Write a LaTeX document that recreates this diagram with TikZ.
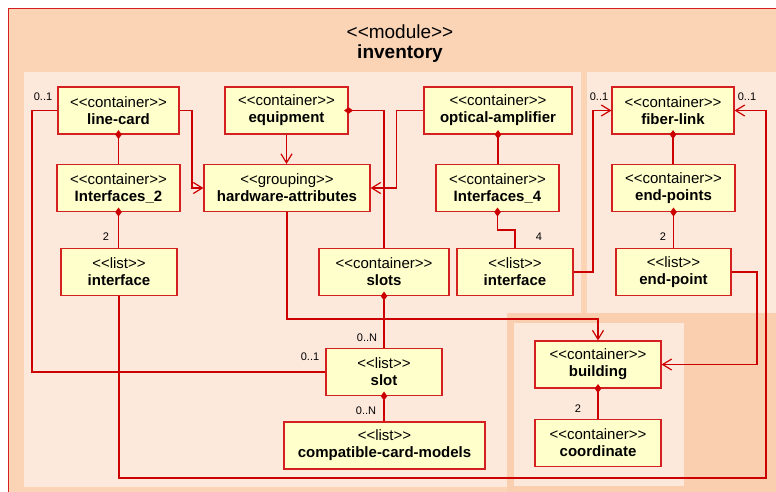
\documentclass[tikz,border=0pt]{standalone}
\usepackage{fontspec}
\setmainfont{Liberation Sans}
\usetikzlibrary{arrows.meta}

\definecolor{wire}{HTML}{CC0000}
\definecolor{boxline}{HTML}{D42020}
\definecolor{boxfill}{HTML}{FFFFCC}
\definecolor{modfill}{HTML}{FBD4B6}
\definecolor{pkgfill}{HTML}{FDE8DC}
\definecolor{subfill}{HTML}{F9CFB0}

\newcommand\stereo[1]{<{}<#1>{}>}

\tikzset{
  cls/.style={draw=boxline, fill=boxfill, line width=1.1pt, inner sep=0pt,
    align=center, minimum height=47pt,
    font=\fontsize{15}{17}\selectfont},
  wireline/.style={draw=wire, line width=1.2pt},
  comp/.style={wireline, {Diamond[length=9pt,width=6.5pt]}-, shorten <=-4.5pt},
  nav/.style={wireline, -{Straight Barb[length=9pt,width=11pt]}},
  mult/.style={font=\fontsize{11}{12}\selectfont, inner sep=0pt}
}

\begin{document}
\begin{tikzpicture}[x=1pt,y=-1pt]
\useasboundingbox (0,0) rectangle (776,491);
\fill[white] (0,0) rectangle (776,491);
\clip (0,0) rectangle (776,491);

% module frame and its package areas
\filldraw[fill=modfill, draw=boxline, line width=1.2pt] (8.5,8.5) rectangle (800,520);
\fill[pkgfill] (24,72) rectangle (581,487);
\fill[pkgfill] (587,72) rectangle (800,313);
\fill[subfill] (507,313) rectangle (800,520);
\fill[pkgfill] (514,323) rectangle (684,486);

\node[font=\fontsize{19}{21}\selectfont, inner sep=0pt] (modst) at (400,32) {\stereo{module}};
\node[font=\fontsize{19}{21}\selectfont\bfseries, inner sep=0pt] (modname) at (400,54) {inventory};

% classes
\node[cls, minimum width=121pt] (linecard)  at (118.5,110.5) {\stereo{container}\\\textbf{line-card}};
\node[cls, minimum width=123pt] (equipment) at (286.5,110.5) {\stereo{container}\\\textbf{equipment}};
\node[cls, minimum width=148pt] (optamp)    at (498,110.5)   {\stereo{container}\\\textbf{optical-amplifier}};
\node[cls, minimum width=122pt] (fiberlink) at (673,110.5)   {\stereo{container}\\\textbf{fiber-link}};

\node[cls, minimum width=123pt] (ifaces2)   at (118.5,188) {\stereo{container}\\\textbf{Interfaces\_2}};
\node[cls, minimum width=166pt] (hwattr)    at (287,188)   {\stereo{grouping}\\\textbf{hardware-attributes}};
\node[cls, minimum width=123pt] (ifaces4)   at (497.5,188) {\stereo{container}\\\textbf{Interfaces\_4}};
\node[cls, minimum width=123pt] (endpoints) at (673.5,188) {\stereo{container}\\\textbf{end-points}};

\node[cls, minimum width=116pt] (iface)     at (119,272)   {\stereo{list}\\\textbf{interface}};
\node[cls, minimum width=130pt] (slots)     at (384,272)   {\stereo{container}\\\textbf{slots}};
\node[cls, minimum width=116pt] (ifacefour) at (515,272)   {\stereo{list}\\\textbf{interface}};
\node[cls, minimum width=115pt] (endpoint)  at (673.5,272) {\stereo{list}\\\textbf{end-point}};

\node[cls, minimum width=116pt] (slot)      at (384,372)   {\stereo{list}\\\textbf{slot}};
\node[cls, minimum width=201pt] (ccm)       at (384.5,445.5) {\stereo{list}\\\textbf{compatible-card-models}};
\node[cls, minimum width=126pt] (building)  at (598,364.5) {\stereo{container}\\\textbf{building}};
\node[cls, minimum width=126pt] (coordnode) at (598,443)   {\stereo{container}\\\textbf{coordinate}};

% bend points
\coordinate (hwbend) at (287,319);
\coordinate (lowbend) at (766,478);

% compositions
\draw[comp] (linecard.south) -- (linecard.south |- ifaces2.north);
\draw[comp] (ifaces2.south) -- (ifaces2.south |- iface.north);
\draw[comp] (equipment.east) -| (slots.north);
\draw[comp] (optamp.south) -- (optamp.south |- ifaces4.north);
\draw[comp] (ifaces4.south) -- ++(0,18) -| (ifacefour.north);
\draw[comp] (fiberlink.south) -- (fiberlink.south |- endpoints.north);
\draw[comp] (endpoints.south) -- (endpoints.south |- endpoint.north);
\draw[comp] (slots.south) -- (slot.north);
\draw[comp] (slot.south) -- (slot.south |- ccm.north);
\draw[comp] (building.south) -- (coordnode.north);

% references
\draw[nav] (linecard.east) -- ++(12.5,0) |- (hwattr.west);
\draw[nav] (equipment.south) -- (equipment.south |- hwattr.north);
\draw[nav] (optamp.west) -- ++(-27,0) |- (hwattr.east);
\draw[nav] (hwattr.south) -- (hwbend) -| (building.north);
\draw[wireline] (linecard.west) -- ++(-25.5,0) |- (slot.west);
\draw[nav] (iface.south) |- (lowbend) |- (fiberlink.east);
\draw[nav] (ifacefour.east) -- ++(19.5,0) |- (fiberlink.west);
\draw[nav] (endpoint.east) -- ++(25.5,0) |- (building.east);

% multiplicities
\node[mult] (m1) at (43,97)   {0..1};
\node[mult] (m2) at (106,237) {2};
\node[mult] (m3) at (367,338) {0..N};
\node[mult] (m4) at (310,357) {0..1};
\node[mult] (m5) at (366,411) {0..N};
\node[mult] (m6) at (539,237) {4};
\node[mult] (m7) at (599,97)  {0..1};
\node[mult] (m8) at (747,97)  {0..1};
\node[mult] (m9) at (663,237) {2};
\node[mult] (m10) at (578,409) {2};
\end{tikzpicture}
\end{document}
